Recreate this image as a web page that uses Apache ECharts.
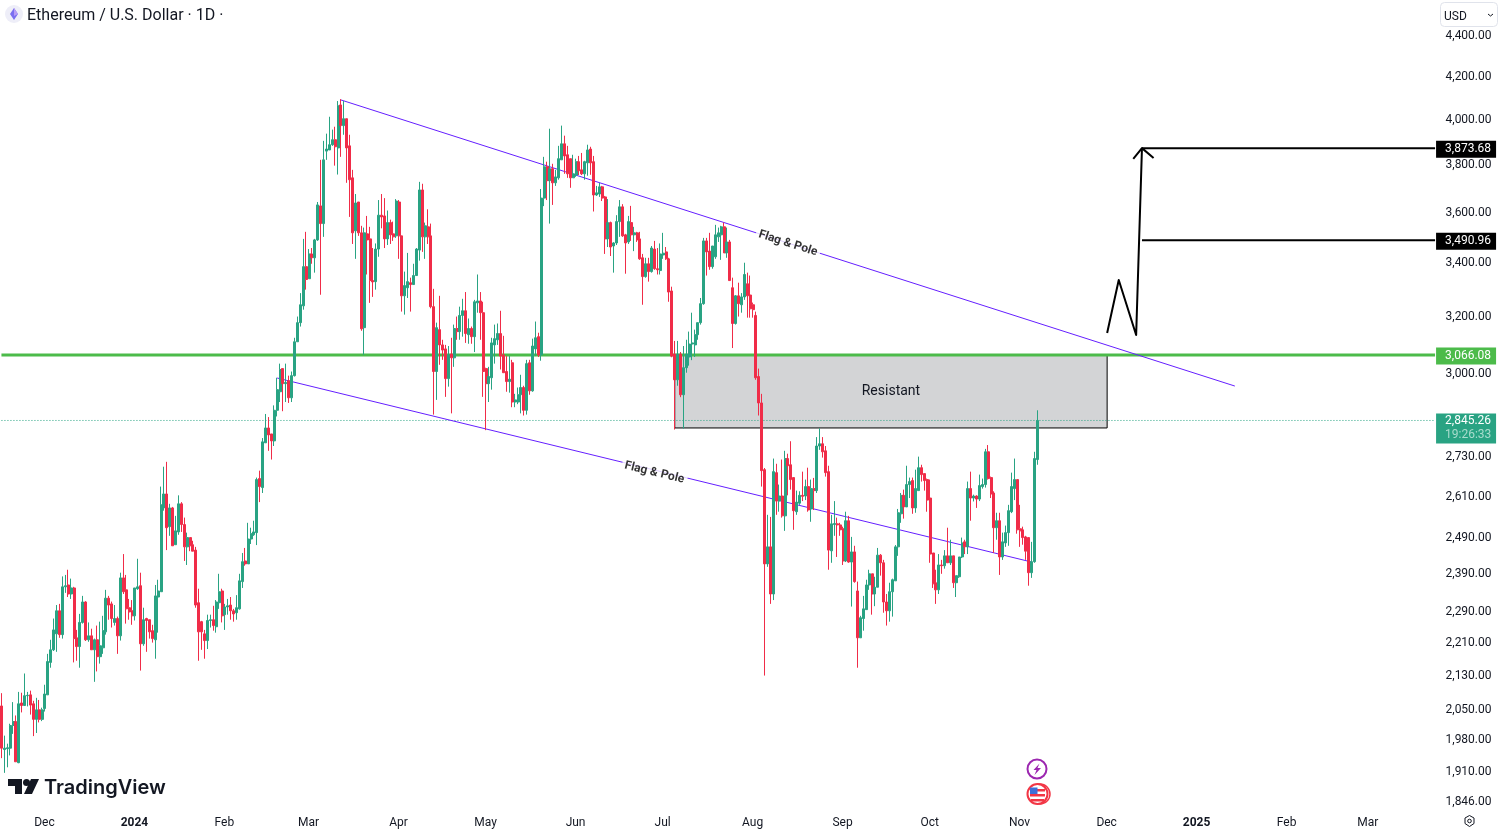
<!DOCTYPE html>
<html>
<head>
<meta charset="utf-8">
<title>Ethereum / U.S. Dollar · 1D</title>
<style>html,body{margin:0;padding:0;background:#fff}#c{width:1498px;height:830px}</style>
<script src="https://cdn.jsdelivr.net/npm/echarts@6/dist/echarts.min.js"></script>
</head>
<body>
<div id="c"></div>
<script>
// Candle rows: [open, close, low, high], one list per month
const nov23 = [[2054,1958,1936,2084],[1955,1958,1904,1986],[1957,1959,1916,1968],[1958,2009,1942,2013],[2009,2018,1990,2063],[2018,1928,1928,2032],[1926,2059,1925,2087],[2061,2055,2039,2085],[2055,2078,2055,2131],[2078,2079,2053,2087],[2080,2056,2034,2090],[2059,2023,1985,2066],[2023,2045,1992,2073],[2045,2023,2016,2068],[2023,2045,2019,2050]];
const dec23 = [[2048,2082,2041,2104],[2080,2160,2080,2179],[2158,2189,2145,2214],[2189,2239,2186,2268],[2229,2288,2184,2303],[2288,2227,2219,2306],[2227,2351,2217,2379],[2351,2354,2335,2383],[2356,2332,2324,2397],[2332,2348,2319,2373],[2348,2217,2158,2351],[2219,2197,2162,2239],[2197,2258,2145,2280],[2258,2311,2255,2327],[2311,2214,2211,2313],[2214,2224,2209,2258],[2224,2189,2189,2242],[2189,2214,2111,2217],[2214,2172,2136,2250],[2172,2199,2155,2260],[2194,2237,2179,2275],[2234,2321,2227,2343],[2321,2303,2265,2327],[2306,2268,2245,2312],[2258,2268,2250,2303],[2268,2224,2179,2273],[2224,2375,2212,2389],[2375,2338,2332,2440],[2343,2293,2255,2383],[2296,2285,2265,2319],[2288,2275,2252,2316]];
const jan24 = [[2275,2348,2263,2348],[2346,2351,2343,2427],[2354,2204,2138,2389],[2204,2265,2199,2296],[2268,2263,2184,2270],[2265,2234,2217,2265],[2237,2217,2207,2252],[2214,2327,2167,2356],[2324,2340,2232,2370],[2338,2580,2338,2634],[2571,2612,2563,2694],[2612,2514,2451,2709],[2517,2571,2491,2583],[2571,2463,2463,2574],[2466,2505,2466,2548],[2502,2583,2494,2608],[2583,2523,2502,2588],[2523,2460,2421,2543],[2460,2486,2410,2500],[2486,2463,2448,2486],[2466,2448,2448,2477],[2451,2303,2296,2460],[2309,2234,2162,2346],[2260,2234,2189,2262],[2229,2212,2167,2239],[2212,2263,2191,2278],[2263,2265,2245,2278],[2265,2250,2237,2301],[2247,2311,2232,2316],[2309,2338,2293,2386],[2340,2275,2258,2346]];
const feb24 = [[2278,2298,2239,2306],[2298,2301,2278,2319],[2303,2288,2265,2324],[2288,2280,2260,2293],[2283,2296,2265,2329],[2293,2367,2291,2386],[2365,2419,2348,2443],[2421,2413,2408,2457],[2413,2482,2413,2528],[2482,2497,2468,2514],[2494,2502,2491,2534],[2500,2655,2465,2661],[2658,2634,2588,2682],[2631,2771,2615,2783],[2768,2815,2768,2860],[2815,2793,2743,2850],[2796,2774,2716,2796],[2774,2872,2758,2888],[2872,2940,2852,2980],[2933,3008,2899,3028],[3011,2960,2869,3011],[2960,2964,2899,3028],[2970,2913,2896,2987],[2913,2987,2899,3001],[2987,3104,2984,3118],[3104,3172,3104,3194],[3172,3237,3158,3280],[3233,3380,3219,3488],[3380,3331,3293,3516]];
const mar24 = [[3334,3429,3334,3448],[3429,3414,3391,3452],[3414,3484,3357,3488],[3484,3625,3480,3637],[3621,3549,3274,3815],[3549,3815,3496,3898],[3853,3862,3815,3930],[3858,3881,3858,4006],[3881,3903,3876,3948],[3903,3872,3790,3961],[3867,4056,3752,4078],[4060,3966,3828,4087],[3966,3997,3925,4078],[3997,3867,3717,3997],[3876,3730,3576,3925],[3738,3512,3468,3772],[3520,3633,3410,3670],[3637,3512,3500,3637],[3512,3150,3143,3540],[3154,3512,3058,3533],[3508,3484,3350,3580],[3488,3327,3244,3536],[3327,3322,3266,3452],[3323,3448,3293,3470],[3448,3583,3418,3645],[3583,3576,3530,3670],[3580,3488,3452,3653],[3488,3553,3464,3602],[3553,3504,3468,3565],[3508,3496,3480,3557],[3500,3641,3492,3649]];
const apr24 = [[3637,3500,3410,3645],[3500,3270,3212,3500],[3270,3308,3201,3361],[3300,3323,3262,3433],[3319,3312,3212,3338],[3312,3346,3312,3391],[3346,3448,3346,3452],[3444,3687,3403,3721],[3687,3496,3437,3713],[3496,3540,3410,3553],[3536,3496,3468,3607],[3500,3230,3224,3549],[3230,3001,2858,3296],[3001,3154,2906,3172],[3147,3093,3024,3270],[3093,3075,3041,3111],[3079,2977,2916,3093],[2977,3058,2950,3089],[3061,3048,2862,3118],[3048,3151,3017,3165],[3151,3140,3111,3194],[3140,3198,3111,3230],[3198,3215,3122,3259],[3215,3133,3100,3284],[3129,3151,3097,3187],[3151,3122,3097,3158],[3122,3248,3068,3255],[3244,3251,3208,3350],[3251,3208,3111,3284],[3208,3001,2916,3248]];
const may24 = [[3011,2960,2808,3014],[2960,2984,2899,3017],[2980,3100,2940,3118],[3093,3115,3028,3165],[3111,3133,3093,3169],[3133,3054,3008,3215],[3058,2997,2997,3125],[3001,2967,2933,3054],[2967,2975,2930,3054],[3031,2899,2882,3041],[2899,2906,2882,2926],[2899,2923,2892,2947],[2923,2947,2862,2990],[2947,2872,2855,2953],[2872,3028,2858,3041],[3031,2936,2923,3041],[2936,3089,2933,3115],[3079,3118,3054,3176],[3122,3058,3051,3136],[3058,3653,3038,3691],[3653,3785,3620,3828],[3785,3726,3645,3807],[3726,3777,3549,3952],[3777,3717,3625,3798],[3717,3742,3704,3772],[3738,3820,3730,3876],[3815,3885,3815,3966],[3885,3832,3755,3921],[3837,3755,3738,3876],[3820,3738,3696,3820],[3738,3755,3738,3837]];
const jun24 = [[3750,3807,3742,3820],[3807,3768,3750,3832],[3772,3755,3750,3845],[3755,3807,3730,3811],[3802,3858,3747,3881],[3862,3802,3751,3872],[3807,3666,3598,3832],[3666,3675,3662,3704],[3670,3700,3658,3717],[3700,3653,3641,3704],[3658,3488,3429,3662],[3488,3553,3456,3649],[3553,3456,3421,3557],[3460,3472,3357,3475],[3472,3557,3464,3583],[3557,3617,3496,3645],[3617,3500,3496,3628],[3504,3472,3353,3508],[3476,3557,3468,3580],[3553,3504,3480,3621],[3504,3512,3440,3536],[3512,3484,3476,3516],[3488,3410,3406,3516],[3414,3342,3237,3429],[3342,3391,3338,3414],[3391,3361,3323,3414],[3361,3452,3357,3460],[3448,3372,3368,3480],[3372,3368,3350,3452],[3365,3429,3350,3470]];
const jul24 = [[3425,3432,3410,3512],[3437,3410,3406,3456],[3410,3284,3248,3414],[3288,3054,3050,3304],[3061,2973,2810,3107],[2973,3061,2953,3107],[3061,2923,2915,3068],[2923,3014,2813,3089],[3014,3061,2997,3111],[3051,3096,3021,3140],[3096,3100,3040,3208],[3093,3129,3051,3147],[3129,3172,3111,3172],[3172,3241,3165,3262],[3241,3480,3237,3492],[3480,3437,3346,3492],[3440,3380,3368,3512],[3380,3460,3372,3460],[3418,3504,3410,3544],[3496,3512,3476,3533],[3504,3536,3406,3540],[3536,3433,3433,3553],[3433,3476,3414,3533],[3476,3327,3327,3484],[3300,3169,3082,3338],[3169,3270,3165,3273],[3270,3241,3194,3319],[3237,3266,3208,3280],[3266,3350,3255,3395],[3315,3270,3190,3357],[3273,3222,3190,3346]];
const aug24 = [[3237,3219,3190,3245],[3198,2980,2973,3212],[2984,2896,2855,3011],[2896,2682,2634,2926],[2685,2413,2126,2690],[2413,2460,2405,2551],[2460,2332,2306,2545],[2332,2679,2316,2719],[2676,2591,2551,2703],[2591,2606,2560,2640],[2606,2548,2543,2716],[2548,2719,2505,2743],[2719,2697,2608,2734],[2700,2655,2625,2773],[2661,2563,2508,2661],[2560,2588,2551,2622],[2585,2608,2580,2620],[2608,2605,2591,2679],[2606,2634,2594,2655],[2634,2565,2560,2691],[2568,2628,2531,2655],[2628,2622,2565,2660],[2622,2758,2615,2786],[2758,2765,2746,2814],[2765,2740,2722,2786],[2743,2676,2664,2758],[2679,2451,2397,2697],[2449,2525,2416,2551],[2523,2526,2491,2591],[2525,2522,2432,2543],[2522,2508,2491,2528]];
const sep24 = [[2511,2421,2410,2517],[2421,2534,2418,2560],[2534,2418,2416,2548],[2418,2446,2299,2488],[2446,2365,2362,2463],[2340,2219,2145,2365],[2219,2270,2219,2275],[2268,2293,2237,2327],[2291,2356,2291,2370],[2356,2386,2343,2397],[2386,2332,2278,2386],[2332,2350,2300,2378],[2350,2437,2350,2457],[2437,2416,2381,2440],[2416,2311,2283,2424],[2311,2288,2250,2332],[2288,2338,2260,2362],[2338,2370,2273,2373],[2367,2460,2367,2465],[2460,2557,2435,2568],[2554,2608,2528,2615],[2608,2574,2540,2625],[2574,2640,2574,2697],[2640,2649,2600,2661],[2652,2571,2554,2661],[2571,2628,2557,2685],[2622,2691,2622,2725],[2691,2670,2649,2700],[2673,2652,2622,2673],[2655,2594,2560,2658]];
const oct24 = [[2600,2440,2416,2655],[2443,2359,2348,2443],[2362,2343,2306,2397],[2343,2410,2332,2440],[2410,2408,2386,2424],[2408,2435,2400,2451],[2435,2416,2416,2514],[2416,2435,2410,2480],[2435,2362,2348,2435],[2362,2381,2324,2381],[2378,2432,2375,2432],[2432,2471,2429,2486],[2474,2460,2440,2480],[2460,2628,2440,2649],[2628,2600,2534,2679],[2600,2606,2590,2610],[2606,2597,2571,2608],[2597,2637,2591,2670],[2634,2640,2628,2658],[2640,2740,2631,2749],[2740,2658,2655,2761],[2661,2612,2600,2664],[2615,2514,2443,2620],[2514,2534,2480,2557],[2534,2432,2383,2557],[2432,2474,2424,2500],[2471,2500,2460,2520],[2500,2563,2463,2580],[2560,2634,2556,2676],[2628,2655,2594,2719],[2655,2508,2497,2655]];
const nov24 = [[2511,2505,2460,2580],[2508,2486,2466,2517],[2488,2448,2424,2491],[2486,2389,2354,2486],[2389,2419,2375,2474],[2419,2719,2416,2740],[2716,2839,2700,2872]];
const candles = [].concat(nov23,dec23,jan24,feb24,mar24,apr24,may24,jun24,jul24,aug24,sep24,oct24,nov24);

const firstDay = '2023-11-16';
const lastDay = '2025-03-24';
const categories = [];
for (let t = Date.parse(firstDay); t <= Date.parse(lastDay); t += 864e5) categories.push(new Date(t).toISOString().slice(0,10));

const monthTicks = {'2023-12-01':'Dec','2024-01-01':'{b|2024}','2024-02-01':'Feb','2024-03-01':'Mar','2024-04-01':'Apr','2024-05-01':'May','2024-06-01':'Jun','2024-07-01':'Jul','2024-08-01':'Aug','2024-09-01':'Sep','2024-10-01':'Oct','2024-11-01':'Nov','2024-12-01':'Dec','2025-01-01':'{b|2025}','2025-02-01':'Feb','2025-03-01':'Mar'};
const priceTicks = [4400,4200,4000,3800,3600,3400,3200,3000,2730,2610,2490,2390,2290,2210,2130,2050,1980,1910,1846];

// Drawings, as [date, price]
const upperChannel = [['2024-03-12',4083],['2025-01-14',2952]];
const lowerChannel = [['2024-02-19',2979],['2024-11-05',2418]];
const zigzag = [['2024-12-01',3135],['2024-12-05',3329],['2024-12-11',3128],['2024-12-13',3866]];
const arrowHead = [['2024-12-10',3819],['2024-12-13',3866],['2024-12-17',3823]];
const resistZone = {from:'2024-07-05', to:'2024-12-01', low:2815, high:3058};
const channelLabels = [{name:'Flag & Pole', value:['2024-08-13',3470], rot:-17.7},{name:'Flag & Pole', value:['2024-06-28',2676], rot:-13.7}];
const resistanceLevel = 3058, target1 = 3866, target2 = 3483, lastLevel = 2839;

const up = '#29a383', down = '#f02c48', ink = '#131722', violet = '#651fff', lime = '#4cbb4a';
const FONT = 'Roboto';
const plain = (data, color, width, z, extra) => Object.assign({type:'line', data, symbol:'none', silent:true, z, lineStyle:{color, width, join:'round'}, animation:false}, extra||{});
const tag = (text, bg) => ({show:true, formatter:text, distance:1, offset:[0,1], backgroundColor:bg, color:'#fff', fontFamily:FONT, fontSize:12, width:51, height:13, lineHeight:13, padding:[2,0,2,9], align:'left'});

const chart = echarts.init(document.getElementById('c'), null, {renderer:'canvas'});
const O = {
  animation:false, backgroundColor:'#ffffff', textStyle:{fontFamily:FONT},
  grid:{left:-1.45, top:0, width:1437.975, height:808, containLabel:false},
  xAxis:{type:'category', data:categories, boundaryGap:true, axisLine:{show:false}, axisTick:{show:false}, splitLine:{show:false},
    axisLabel:{interval:(i,v)=>monthTicks[v]!==undefined, formatter:v=>monthTicks[v]||'', margin:9, padding:[0,1,0,0], color:ink, fontFamily:FONT, fontSize:12, hideOverlap:false, rich:{b:{fontWeight:'bold',fontSize:12,color:ink,fontFamily:FONT}}}},
  yAxis:{type:'log', logBase:10, position:'right', min:1829.6, max:4573, axisLine:{show:false}, axisTick:{show:false}, splitLine:{show:false}, minorTick:{show:false}, minorSplitLine:{show:false},
    axisLabel:{customValues:priceTicks, formatter:v=>'{p|'+Math.round(v).toLocaleString('en-US',{minimumFractionDigits:2})+'}', margin:9, color:ink, fontFamily:FONT, fontSize:12, showMinLabel:true, showMaxLabel:true, rich:{p:{padding:[4,0,0,0], color:ink, fontFamily:FONT, fontSize:12}}}},
  series:[
    plain([], ink, 1, 1, {markArea:{silent:true, z:1, itemStyle:{color:'#d3d4d6', borderColor:'#000', borderWidth:1}, label:{show:true, position:'inside', formatter:'Resistant', color:ink, fontFamily:FONT, fontSize:14}, data:[[{xAxis:resistZone.from, yAxis:resistZone.low},{xAxis:resistZone.to, yAxis:resistZone.high}]]}}),
    plain([[firstDay,resistanceLevel],[lastDay,resistanceLevel]], lime, 3, 2, {endLabel:tag('3,066.08', lime)}),
    plain([[firstDay,lastLevel],[lastDay,lastLevel]], up, 1, 2, {lineStyle:{color:up,width:1,type:[1,2]}, endLabel:Object.assign(tag('{a|2,845.26}\n{t|19:26:33}', up),{height:28,lineHeight:14,offset:[0,8],padding:[1,0,1,9],rich:{a:{color:'#fff',fontFamily:FONT,fontSize:12,lineHeight:14},t:{color:'#a9dccd',fontFamily:FONT,fontSize:12,lineHeight:14}}})}),
    plain(upperChannel, violet, 1, 3),
    plain(lowerChannel, violet, 1, 3),
    {type:'candlestick', data:candles, barWidth:2.5, z:5, silent:true, animation:false, large:false, itemStyle:{color:up, color0:down, borderColor:up, borderColor0:down, borderWidth:1, borderColorDoji:up}},
    plain(zigzag, '#000', 2, 6),
    plain(arrowHead, '#000', 2, 6),
    plain([['2024-12-13',target1],[lastDay,target1]], '#000', 2, 6, {endLabel:tag('3,873.68','#000')}),
    plain([['2024-12-13',target2],[lastDay,target2]], '#000', 2, 6, {endLabel:tag('3,490.96','#000')}),
    {type:'scatter', symbolSize:1, z:7, silent:true, itemStyle:{color:'transparent'}, data:channelLabels.map(d=>({name:d.name, value:d.value, label:{rotate:d.rot}})),
      label:{show:true, position:'inside', formatter:'{b}', color:'#000', fontFamily:FONT, fontSize:12, fontWeight:'bold', backgroundColor:'#fff', padding:[1,3]}}
  ],
  graphic:{elements:[
    // header
    {type:'circle', shape:{cx:14,cy:14,r:9}, style:{fill:'#eeeef8'}, z:50},
    {type:'polygon', shape:{points:[[14,8],[18,14],[14,20],[10,14]]}, style:{fill:'#7a6ef0'}, z:51},
    {type:'polygon', shape:{points:[[14,8],[18,14],[14,16]]}, style:{fill:'#b79cf5'}, z:52},
    {type:'text', x:27, y:16, style:{text:'Ethereum / U.S. Dollar · 1D ·', fill:ink, font:'16px Roboto', textVerticalAlign:'middle'}, z:50},
    // currency box
    {type:'rect', shape:{x:1440.5,y:2.5,width:57,height:24,r:4}, style:{fill:'#fff',stroke:'#e0e3eb',lineWidth:1}, z:50},
    {type:'text', x:1444, y:17, style:{text:'USD', fill:ink, font:'12px Roboto', textVerticalAlign:'middle'}, z:51},
    {type:'polyline', shape:{points:[[1488,14],[1490.5,16],[1493,14]]}, style:{stroke:ink,lineWidth:1,fill:'none'}, z:51},
    // logo
    {type:'polygon', shape:{points:[[8,779],[22,779],[22,794],[15,794],[15,786],[8,786]]}, style:{fill:ink}, z:50},
    {type:'circle', shape:{cx:26.5,cy:782.5,r:3.5}, style:{fill:ink}, z:50},
    {type:'polygon', shape:{points:[[31,779],[39,779],[32,794],[24,794]]}, style:{fill:ink}, z:50},
    {type:'text', x:44, y:787.5, style:{text:'TradingView', fill:ink, font:'600 20px Inter', textVerticalAlign:'middle'}, z:50},
    // event icons
    {type:'circle', shape:{cx:1037,cy:769,r:9.5}, style:{fill:'#fff',stroke:'#9c27b0',lineWidth:2}, z:50},
    {type:'polygon', shape:{points:[[1039.5,763.5],[1033.5,770],[1036.5,770],[1034.5,775],[1041,768],[1037.5,768]]}, style:{fill:'#9c27b0'}, z:51},
    {type:'circle', shape:{cx:1040,cy:794,r:10}, style:{fill:'#fff',stroke:'#f23645',lineWidth:1.5}, z:50},
    {type:'circle', shape:{cx:1037.5,cy:794,r:10}, style:{fill:'#fff',stroke:'#f23645',lineWidth:2}, z:51},
    {type:'rect', shape:{x:1030,y:794,width:15,height:2.5}, style:{fill:'#f23645'}, z:52},
    {type:'rect', shape:{x:1031,y:799,width:13,height:2.5}, style:{fill:'#f23645'}, z:52},
    {type:'rect', shape:{x:1037,y:789,width:8,height:2.5}, style:{fill:'#f23645'}, z:52},
    {type:'rect', shape:{x:1030,y:787.5,width:7.5,height:6.5}, style:{fill:'#3f6fd8'}, z:53},
    // settings icon
    {type:'polygon', shape:{points:[[1469.5,815.5],[1474,818],[1474,823.5],[1469.5,826.5],[1465,823.5],[1465,818]]}, style:{fill:'#fff',stroke:ink,lineWidth:1}, z:50},
    {type:'circle', shape:{cx:1469.5,cy:821,r:1.8}, style:{fill:'#fff',stroke:ink,lineWidth:1}, z:51}
  ]}
};
chart.setOption(O);
</script>
</body>
</html>
